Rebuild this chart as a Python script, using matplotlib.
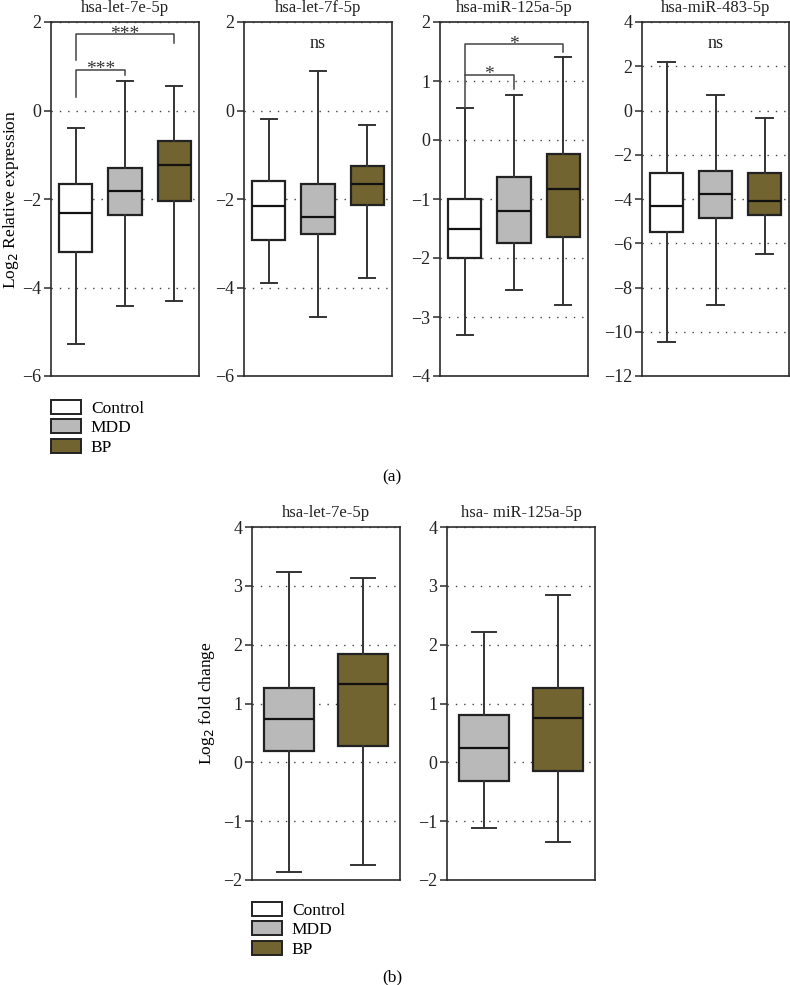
"""Box plots of miRNA expression (panel a) and fold change (panel b)."""

import matplotlib
matplotlib.use("Agg")
import matplotlib.pyplot as plt
from matplotlib.patches import Patch

# ---- data ----
groups = ["Control", "MDD", "BP"]
colors = {"Control": "#ffffff", "MDD": "#b9b9b9", "BP": "#716431"}

# panel (a): relative expression, one row per group: whislo, q1, med, q3, whishi
a_titles = ["hsa-let-7e-5p", "hsa-let-7f-5p", "hsa-miR-125a-5p", "hsa-miR-483-5p"]
let7e_a = [[-5.27, -3.19, -2.31, -1.66, -0.39],
           [-4.42, -2.37, -1.82, -1.31, 0.67],
           [-4.30, -2.04, -1.23, -0.70, 0.56]]
let7f_a = [[-3.89, -2.93, -2.15, -1.60, -0.20],
           [-4.67, -2.80, -2.40, -1.65, 0.90],
           [-3.78, -2.14, -1.67, -1.26, -0.33]]
mir125a_a = [[-3.31, -2.00, -1.51, -1.00, 0.54],
             [-2.55, -1.74, -1.20, -0.63, 0.76],
             [-2.79, -1.64, -0.83, -0.23, 1.41]]
mir483_a = [[-10.45, -5.49, -4.33, -2.84, 2.19],
            [-8.79, -4.86, -3.77, -2.75, 0.71],
            [-6.47, -4.71, -4.10, -2.82, -0.32]]
a_data = [let7e_a, let7f_a, mir125a_a, mir483_a]
a_ylims = [(-6, 2), (-6, 2), (-4, 2), (-12, 4)]
a_yticks = [[-6, -4, -2, 0, 2], [-6, -4, -2, 0, 2],
            [-4, -3, -2, -1, 0, 1, 2], [-12, -10, -8, -6, -4, -2, 0, 2, 4]]

# significance brackets: (panel, group_from, group_to, line y, left foot, right foot, label)
brackets = [
    (0, 1, 3, 1.72, 1.13, 1.53, "***"),
    (0, 1, 2, 0.92, 0.30, 0.80, "***"),
    (2, 1, 3, 1.62, 1.10, 1.50, "*"),
    (2, 1, 2, 1.10, 0.54, 0.86, "*"),
]
ns_labels = [(1, 1.52), (3, 3.04)]

# panel (b): fold change, groups MDD and BP
b_titles = ["hsa-let-7e-5p", "hsa- miR-125a-5p"]
b_groups = ["MDD", "BP"]
let7e_b = [[-1.86, 0.20, 0.74, 1.27, 3.24],
           [-1.74, 0.27, 1.33, 1.84, 3.13]]
mir125a_b = [[-1.12, -0.31, 0.24, 0.81, 2.21],
             [-1.35, -0.15, 0.76, 1.26, 2.85]]
b_data = [let7e_b, mir125a_b]
b_ylim = (-2, 4)
b_yticks = [-2, -1, 0, 1, 2, 3, 4]

# ---- style ----
plt.rcParams.update({
    "font.family": ["Liberation Serif", "DejaVu Serif"],
    "font.size": 11,
    "axes.linewidth": 1.2,
    "axes.edgecolor": "#2b2b2b",
    "ytick.major.size": 5,
    "ytick.major.width": 1.1,
    "ytick.color": "#2b2b2b",
    "ytick.labelcolor": "#222222",
})

W, H = 790, 985
fig = plt.figure(figsize=(W / 100, H / 100), dpi=100)


def px_axes(x0, x1, y0, y1):
    return fig.add_axes([x0 / W, 1 - y1 / H, (x1 - x0) / W, (y1 - y0) / H])


def draw_boxes(ax, rows, names):
    stats = []
    for r, name in zip(rows, names):
        stats.append(dict(whislo=r[0], q1=r[1], med=r[2], q3=r[3], whishi=r[4], label=name))
    bp = ax.bxp(stats, positions=range(1, len(rows) + 1), widths=0.67, capwidths=0.33,
                showfliers=False, patch_artist=True,
                boxprops=dict(linewidth=1.6, edgecolor="#222222"),
                medianprops=dict(color="#111111", linewidth=1.6),
                whiskerprops=dict(color="#333333", linewidth=1.4),
                capprops=dict(color="#333333", linewidth=1.4), zorder=3)
    for patch, name in zip(bp["boxes"], names):
        patch.set_facecolor(colors[name])
    ax.set_xlim(0.5, len(rows) + 0.5)
    ax.set_xticks([])
    ax.yaxis.grid(True, linestyle=(0, (1, 5)), color="#444444", linewidth=1.0)
    ax.set_axisbelow(True)
    ax.tick_params(axis="y", labelsize=13, pad=2)


# ---- panel (a) ----
a_x = [(51, 199), (244, 392), (440, 588), (642, 789)]
a_axes = []
for i, (x0, x1) in enumerate(a_x):
    ax = px_axes(x0, x1, 22, 376)
    draw_boxes(ax, a_data[i], groups)
    ax.set_ylim(*a_ylims[i])
    ax.set_yticks(a_yticks[i])
    ax.set_title(a_titles[i], fontsize=12, pad=7, color="#222222")
    a_axes.append(ax)

a_axes[0].set_ylabel("Log$_2$ Relative expression", fontsize=12.5, labelpad=1)

for p, g0, g1, y, foot0, foot1, lab in brackets:
    ax = a_axes[p]
    ax.plot([g0, g0, g1, g1], [foot0, y, y, foot1], color="#444444", linewidth=1.1, zorder=4)
    ax.annotate(lab, xy=((g0 + g1) / 2, y), xytext=(0, -3), textcoords="offset points",
                ha="center", va="baseline", fontsize=14, color="#333333")

for p, y in ns_labels:
    a_axes[p].text(2, y, "ns", ha="center", va="center", fontsize=13, color="#222222")

handles = [Patch(facecolor=colors[g], edgecolor="#222222", linewidth=1.4) for g in groups]
fig.legend(handles, groups, loc="upper left", bbox_to_anchor=(44 / W, 1 - 393 / H),
           frameon=False, fontsize=12.5, handlelength=1.75, handleheight=0.85,
           labelspacing=0.15, handletextpad=0.55, borderaxespad=0)
fig.text(392 / W, 1 - 477 / H, "(a)", ha="center", va="center", fontsize=12.5)

# ---- panel (b) ----
b_x = [(252, 400), (447, 595)]
for i, (x0, x1) in enumerate(b_x):
    ax = px_axes(x0, x1, 527, 880)
    draw_boxes(ax, b_data[i], b_groups)
    ax.set_ylim(*b_ylim)
    ax.set_yticks(b_yticks)
    ax.set_title(b_titles[i], fontsize=12, pad=7, color="#222222")
    if i == 0:
        ax.set_ylabel("Log$_2$ fold change", fontsize=12.5, labelpad=4)

fig.legend(handles, groups, loc="upper left", bbox_to_anchor=(245 / W, 1 - 895 / H),
           frameon=False, fontsize=12.5, handlelength=1.75, handleheight=0.85,
           labelspacing=0.15, handletextpad=0.55, borderaxespad=0)
fig.text(392 / W, 1 - 977 / H, "(b)", ha="center", va="center", fontsize=12.5)

fig.savefig("out.png", dpi=100)
